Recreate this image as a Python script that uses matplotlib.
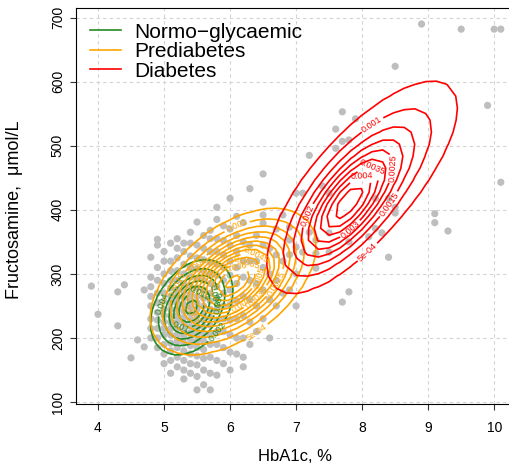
import numpy as np
import matplotlib
matplotlib.use("Agg")
import matplotlib.pyplot as plt
from matplotlib.lines import Line2D

plt.rcParams["font.family"] = ["Liberation Sans", "DejaVu Sans"]

# --- scatter data: HbA1c (%) columns -> fructosamine (umol/L) values ---
cloud_columns = {
    4.8: [200, 215, 230, 250, 265, 280, 295, 326],
    4.9: [185, 200, 215, 228, 240, 255, 270, 290, 310, 345, 354],
    5.0: [160, 175, 190, 205, 215, 225, 235, 245, 258, 270, 285, 300, 320, 335],
    5.1: [145, 165, 180, 192, 205, 215, 225, 235, 245, 255, 265, 278, 290, 305, 320, 348],
    5.2: [155, 170, 185, 195, 205, 215, 225, 235, 245, 255, 265, 275, 290, 305, 325, 340, 355],
    5.3: [136, 150, 165, 180, 192, 202, 212, 222, 232, 242, 252, 262, 272, 285, 300, 315, 335, 348],
    5.4: [145, 160, 175, 188, 198, 208, 218, 228, 238, 248, 258, 268, 280, 295, 310, 328, 348, 365],
    5.5: [119, 140, 158, 172, 185, 195, 205, 215, 225, 235, 245, 255, 265, 278, 292, 308, 325, 345, 381],
    5.6: [127, 150, 168, 182, 195, 207, 218, 228, 238, 250, 262, 275, 290, 305, 322, 340, 360],
    5.7: [119, 145, 170, 190, 205, 220, 232, 245, 258, 270, 285, 300, 318, 335, 355, 368],
    5.8: [142, 165, 190, 210, 228, 245, 262, 280, 298, 315, 335, 355, 385, 404],
    5.9: [160, 185, 210, 230, 250, 270, 290, 310, 330, 352, 375],
    6.0: [150, 178, 205, 228, 252, 275, 298, 320, 345, 370, 418],
    6.1: [175, 200, 230, 258, 285, 310, 335, 360, 390],
    6.2: [155, 170, 200, 235, 265, 295, 320, 350, 380],
    6.3: [190, 225, 260, 290, 320, 345, 433],
    6.4: [210, 250, 285, 320, 360],
    6.5: [230, 275, 310, 345, 379, 392, 412, 456],
    6.6: [200, 260, 300, 340],
    6.7: [250, 290, 330, 370],
    6.8: [270, 320, 392],
    6.9: [275, 330, 353, 373],
    7.0: [250, 300, 342, 426],
}

outlier_hba1c = [3.9, 4.0, 4.3, 4.3, 4.4, 4.5, 4.6, 4.7, 4.7,
                 7.1, 7.1, 7.2, 7.2, 7.3, 7.3, 7.3, 7.4, 7.5, 7.5, 7.5,
                 7.6, 7.6, 7.7, 7.7, 7.7, 7.8, 7.8, 7.8, 7.9, 8.1, 8.2, 8.2,
                 8.3, 8.4, 8.4, 8.5, 8.5, 8.5, 8.9, 9.1, 9.1, 9.3, 9.5,
                 9.9, 10.0, 10.1, 10.1]
outlier_fruct = [281, 237, 272, 219, 283, 169, 197, 186, 275,
                 426, 334, 485, 365, 309, 353, 332, 437, 426, 364, 334,
                 526, 496, 553, 507, 256, 509, 350, 272, 542, 358, 418, 371,
                 364, 418, 326, 624, 404, 395, 690, 394, 380, 367, 682,
                 563, 682, 682, 443]

# --- density contours ---
groups = ["Normo\u2212glycaemic", "Prediabetes", "Diabetes"]
colors = ["#228B22", "#FFA500", "#FF0000"]
grid_hba1c = [(4.3, 6.6), (4.0, 7.6), (6.2, 10.1)]
grid_fruct = [(120, 390), (120, 470), (240, 690)]
levels = [
    [0.002, 0.004, 0.006, 0.008, 0.01, 0.012, 0.014],
    [0.0005, 0.001, 0.0015, 0.002, 0.0025, 0.003, 0.0035, 0.004,
     0.0045, 0.005, 0.0055, 0.006, 0.0065],
    [0.0005, 0.001, 0.0015, 0.002, 0.0025, 0.003, 0.0035, 0.004, 0.0045],
]

# density components (group index, weight, centre, spread, correlation)
comp_group = [0, 1, 2, 2]
comp_weight = [1.0, 1.0, 0.35, 0.65]
comp_mean_hba1c = [5.42, 6.05, 7.75, 8.05]
comp_mean_fruct = [248, 288, 405, 445]
comp_sd_hba1c = [0.31, 0.55, 0.45, 0.85]
comp_sd_fruct = [37, 50, 55, 95]
comp_rho = [0.35, 0.5, 0.7, 0.74]


def density(X, Y, mx, my, sx, sy, r):
    dx = (X - mx) / sx
    dy = (Y - my) / sy
    z = dx**2 - 2 * r * dx * dy + dy**2
    return np.exp(-z / (2 * (1 - r**2))) / (2 * np.pi * sx * sy * np.sqrt(1 - r**2))


def fmt(v):
    if v < 0.001:
        return f"{v:.0e}"
    return f"{v:g}"


fig = plt.figure(figsize=(5.09, 4.68), dpi=100)
ax = fig.add_axes([76 / 509, 64 / 468, 438 / 509, 396 / 468])

px = [x for x, ys in cloud_columns.items() for _ in ys] + outlier_hba1c
py = [y for ys in cloud_columns.values() for y in ys] + outlier_fruct
ax.scatter(px, py, s=27, color="#BEBEBE", edgecolors="none", zorder=2)

for g in range(3):
    gx = np.linspace(*grid_hba1c[g], 25)
    gy = np.linspace(*grid_fruct[g], 25)
    X, Y = np.meshgrid(gx, gy)
    Z = np.zeros_like(X)
    for k in range(len(comp_group)):
        if comp_group[k] == g:
            Z += comp_weight[k] * density(X, Y, comp_mean_hba1c[k], comp_mean_fruct[k],
                                          comp_sd_hba1c[k], comp_sd_fruct[k], comp_rho[k])
    cs = ax.contour(X, Y, Z, levels=levels[g], colors=colors[g], linewidths=1.2, zorder=3)
    ax.clabel(cs, fmt=fmt, fontsize=6.5, inline=True, inline_spacing=2)

ax.set_xlim(3.667, 10.3)
ax.set_ylim(97, 715)
ax.set_xticks(range(4, 11))
ax.set_yticks(range(100, 701, 100))
ax.grid(True, color="#D3D3D3", linestyle=(0, (3, 3)), linewidth=0.8)
ax.set_axisbelow(True)
ax.tick_params(direction="out", length=4, labelsize=10, color="#333333")
ax.tick_params(axis="x", pad=8)
ax.tick_params(axis="y", pad=4)
for lab in ax.get_yticklabels():
    lab.set_rotation(90)
    lab.set_va("center")

ax.set_xlabel("HbA1c, %", fontsize=12, labelpad=10)
ax.set_ylabel("Fructosamine,  \u03bcmol/L", fontsize=13)
ax.yaxis.set_label_coords(-0.12, 0.49)

handles = [Line2D([0], [0], color=c, lw=1.2) for c in colors]
ax.legend(handles, groups, loc="upper left", bbox_to_anchor=(0.0, 0.997),
          frameon=False, fontsize=15, handlelength=1.5, handletextpad=0.65,
          labelspacing=0.02, borderaxespad=0.25)

fig.savefig("out.png", dpi=100)
